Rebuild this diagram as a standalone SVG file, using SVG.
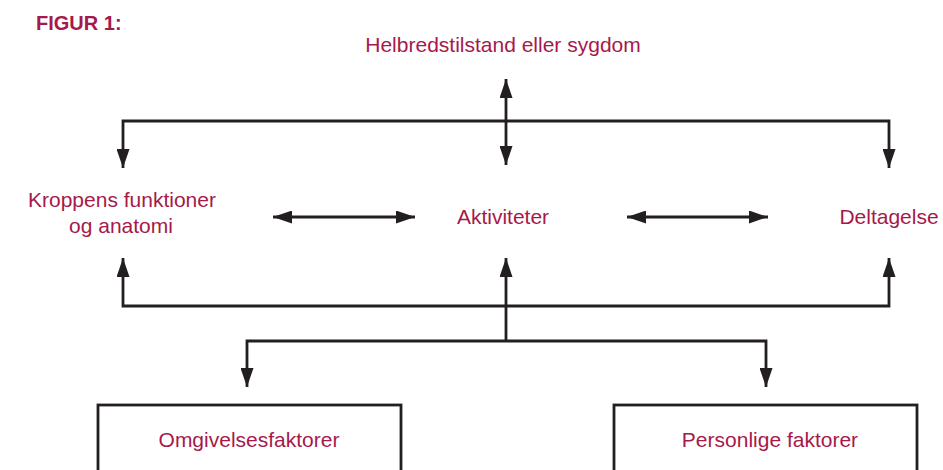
<svg xmlns="http://www.w3.org/2000/svg" width="943" height="470" viewBox="0 0 943 470">
<style>
.t{font-family:"Liberation Sans",Arial,sans-serif;font-size:21px;fill:#a6194a;text-anchor:middle}
.title{font-family:"Liberation Sans",Arial,sans-serif;font-size:20px;font-weight:bold;fill:#a6194a}
.c{fill:none;stroke:#231f20;stroke-width:2.8;stroke-linejoin:miter}
.box{fill:#fff;stroke:#231f20;stroke-width:2.8}
</style>
<defs>
<marker id="ah" markerUnits="userSpaceOnUse" markerWidth="19" markerHeight="13" viewBox="0 0 19 13" refX="19" refY="6.5" orient="auto-start-reverse">
<path d="M0,0 L19,6.5 L0,13 z" fill="#231f20"/>
</marker>
</defs>
<rect width="943" height="470" fill="#fff"/>
<text class="title" x="36" y="30">FIGUR 1:</text>
<g id="connectors">
<path class="c" d="M123,168 V121 H889 V168" marker-start="url(#ah)" marker-end="url(#ah)"/>
<path class="c" d="M506,79 V165" marker-start="url(#ah)" marker-end="url(#ah)"/>
<path class="c" d="M273,217 H415" marker-start="url(#ah)" marker-end="url(#ah)"/>
<path class="c" d="M627,217 H768" marker-start="url(#ah)" marker-end="url(#ah)"/>
<path class="c" d="M123,258 V306 H889 V258" marker-start="url(#ah)" marker-end="url(#ah)"/>
<path class="c" d="M506,341 V258" marker-end="url(#ah)"/>
<path class="c" d="M247,387 V341 H766 V387" marker-start="url(#ah)" marker-end="url(#ah)"/>
</g>
<g id="helbred"><text class="t" x="503" y="52">Helbredstilstand eller sygdom</text></g>
<g id="kroppens"><text class="t" x="122" y="207">Kroppens funktioner</text><text class="t" x="121" y="233">og anatomi</text></g>
<g id="aktiviteter"><text class="t" x="503" y="224">Aktiviteter</text></g>
<g id="deltagelse"><text class="t" x="889" y="224">Deltagelse</text></g>
<g id="omgivelses"><rect class="box" x="98" y="405" width="303" height="80"/><text class="t" x="249" y="447">Omgivelsesfaktorer</text></g>
<g id="personlige"><rect class="box" x="614" y="405" width="303" height="80"/><text class="t" x="770" y="447">Personlige faktorer</text></g>
</svg>
